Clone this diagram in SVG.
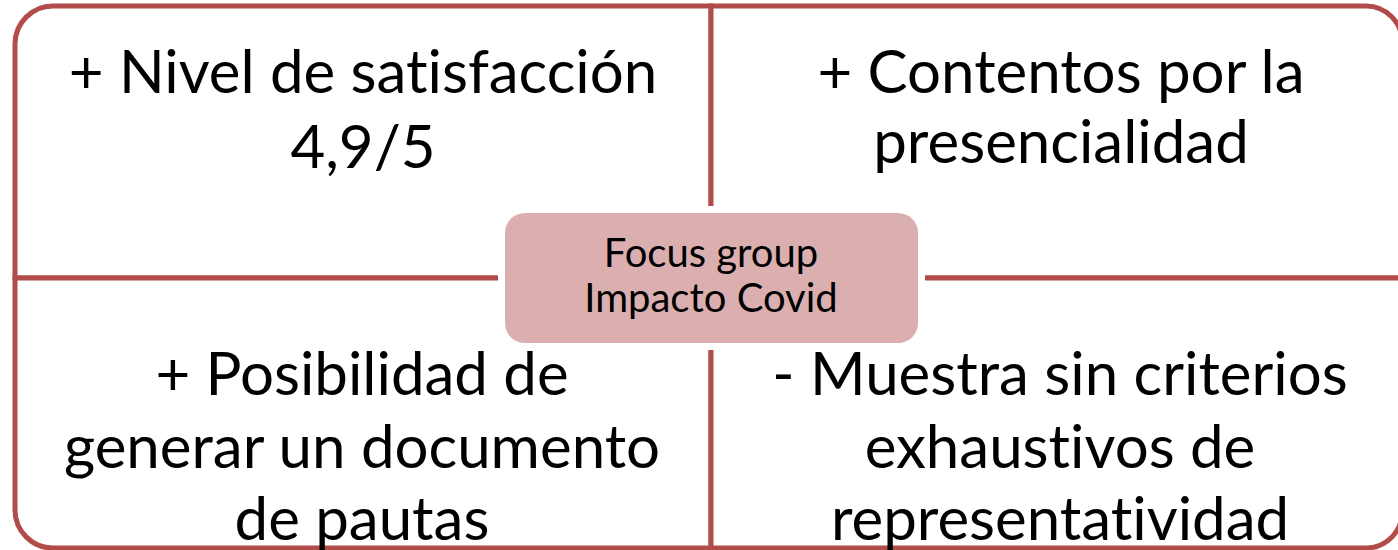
<svg xmlns="http://www.w3.org/2000/svg" width="1398" height="550" viewBox="0 0 1398 550">
<style>
.q{fill:#ffffff;stroke:#B24C4A;stroke-width:5}
.t{font-family:Lato,"Open Sans",sans-serif;font-size:60px;fill:#000;text-anchor:middle;font-variant-ligatures:none}
.c{font-family:Lato,"Open Sans",sans-serif;font-size:40px;fill:#000;text-anchor:middle;font-variant-ligatures:none}
</style>
<g id="quadrants">
<path id="q-tl" class="q" d="M15,278 V44 A38,38 0 0 1 53,6 H711 V278 Z"/>
<path id="q-tr" class="q" d="M711,6 H1366 A36,36 0 0 1 1402,42 V278 H711 Z"/>
<path id="q-bl" class="q" d="M15,278 H711 V548 H53 A38,38 0 0 1 15,510 Z"/>
<path id="q-br" class="q" d="M711,278 H1402 V512 A36,36 0 0 1 1366,548 H711 Z"/>
</g>
<g id="text-tl">
<text class="t" x="363" y="93">+ Nivel de satisfacción</text>
<text class="t" x="363" y="168">4,9/5</text>
</g>
<g id="text-tr">
<text class="t" x="1061" y="93">+ Contentos por la</text>
<text class="t" x="1061" y="163">presencialidad</text>
</g>
<g id="text-bl">
<text class="t" x="362" y="395">+ Posibilidad de</text>
<text class="t" x="362" y="468">generar un documento</text>
<text class="t" x="362" y="540">de pautas</text>
</g>
<g id="text-br">
<text class="t" x="1060" y="395">- Muestra sin criterios</text>
<text class="t" x="1060" y="468">exhaustivos de</text>
<text class="t" x="1060" y="540">representatividad</text>
</g>
<g id="center">
<rect x="498" y="206" width="427" height="144" rx="26" fill="#ffffff"/>
<rect x="505" y="213" width="413" height="130" rx="20" fill="#DBAFB0"/>
<text class="c" x="711" y="267">Focus group</text>
<text class="c" x="711" y="312">Impacto Covid</text>
</g>
</svg>
